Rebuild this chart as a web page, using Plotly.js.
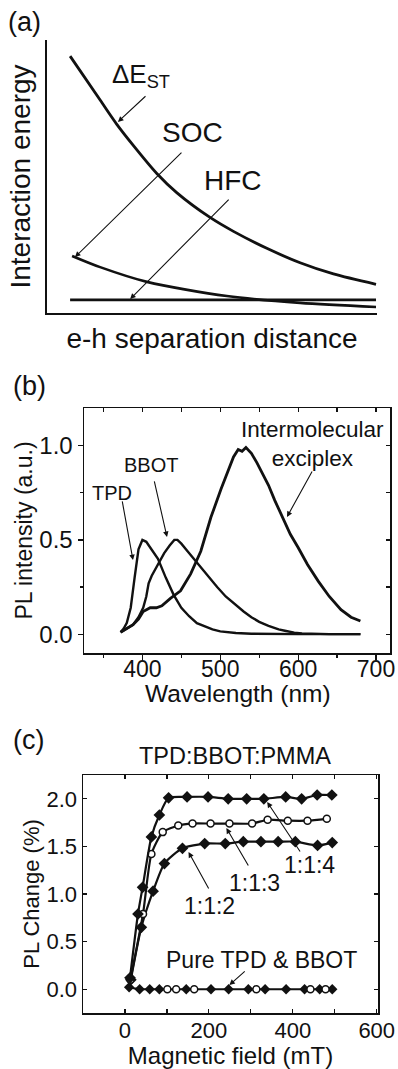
<!DOCTYPE html>
<html>
<head>
<meta charset="utf-8">
<script src="https://cdn.plot.ly/plotly-3.0.1.min.js"></script>
<style>html,body{margin:0;padding:0;background:#fff;}#chart{width:398px;height:1069px;}</style>
</head>
<body>
<div id="chart"></div>
<script>
// ---------- Panel (a): schematic interaction energies vs e-h distance ----------
const destX = [0.70, 1.61, 2.11, 2.62, 3.32, 3.93, 4.94, 5.65, 6.66, 7.67, 8.68, 9.97];
const destY = [9.41, 7.80, 6.92, 6.13, 5.12, 4.41, 3.50, 2.99, 2.37, 1.84, 1.43, 1.05];
const socX = [0.76, 1.61, 3.03, 5.45, 7.67, 9.97];
const socY = [2.09, 1.68, 1.14, 0.62, 0.37, 0.22];
const hfcX = [0.70, 9.97];
const hfcY = [0.48, 0.48];

// ---------- Panel (b): PL spectra ----------
const tpdWl = [372, 376, 380, 385, 390, 395, 400, 405, 410, 420, 430, 440, 450, 460, 470, 480, 490, 500, 520, 540, 560, 600, 640, 680];
const tpdPL = [0.01, 0.03, 0.06, 0.14, 0.30, 0.45, 0.50, 0.49, 0.46, 0.40, 0.30, 0.21, 0.14, 0.095, 0.058, 0.04, 0.025, 0.015, 0.006, 0.002, 0.0, 0.0, 0.0, 0.0];
const bbotWl = [372, 380, 388, 395, 401, 405, 408, 412, 416, 420, 428, 435, 441, 445, 450, 458, 466, 475, 485, 496, 507, 518, 530, 540, 550, 562, 575, 583, 595, 605, 620, 640, 660, 680];
const bbotPL = [0.01, 0.03, 0.05, 0.09, 0.14, 0.20, 0.27, 0.31, 0.34, 0.37, 0.43, 0.47, 0.50, 0.50, 0.48, 0.44, 0.40, 0.35, 0.30, 0.25, 0.20, 0.16, 0.12, 0.09, 0.065, 0.044, 0.025, 0.018, 0.008, 0.004, 0.001, 0.0, 0.0, 0.0];
const excWl = [372, 380, 388, 395, 401, 410, 418, 425, 436, 449, 462, 475, 488, 501, 510, 517, 523, 528, 533, 540, 547, 555, 562, 570, 580, 590, 600, 612, 626, 640, 655, 668, 680];
const excPL = [0.01, 0.03, 0.05, 0.08, 0.12, 0.14, 0.14, 0.15, 0.19, 0.23, 0.32, 0.44, 0.62, 0.77, 0.87, 0.94, 0.98, 0.97, 0.99, 0.96, 0.91, 0.85, 0.79, 0.71, 0.62, 0.53, 0.46, 0.37, 0.28, 0.20, 0.13, 0.09, 0.07];

// ---------- Panel (c): magnetic field effect ----------
const b114 = [12, 31, 42, 63, 82, 104, 148, 198, 246, 290, 331, 383, 421, 458, 493];
const pl114 = [0.12, 0.79, 1.07, 1.60, 1.83, 2.01, 2.02, 2.02, 2.00, 2.00, 2.00, 2.02, 2.00, 2.04, 2.04];
const b113 = [13, 43, 63, 90, 127, 161, 204, 249, 303, 340, 388, 435, 481];
const pl113 = [0.10, 0.79, 1.42, 1.65, 1.72, 1.74, 1.74, 1.74, 1.74, 1.78, 1.77, 1.77, 1.79];
const b112 = [14, 39, 67, 94, 137, 190, 239, 282, 324, 365, 406, 459, 494];
const pl112 = [0.10, 0.65, 1.03, 1.32, 1.48, 1.53, 1.53, 1.55, 1.55, 1.55, 1.55, 1.51, 1.54];
const bPureA = [10, 35, 59, 82, 146, 205, 247, 294, 334, 384, 428, 464, 494];
const plPureA = [0.02, 0.0, 0.0, 0.0, 0.0, 0.0, 0.0, 0.0, 0.0, 0.0, 0.0, 0.0, 0.0];
const bPureB = [101, 122, 165, 313, 442, 478];
const plPureB = [0.0, 0.0, 0.0, 0.0, 0.0, 0.0];

const F = 'Liberation Sans, Arial, Helvetica, sans-serif';
const K = '#111';

const traces = [
  // (a)
  {x: destX, y: destY, xaxis: 'x', yaxis: 'y', mode: 'lines', line: {color: K, width: 2.8, shape: 'spline', smoothing: 0.8}},
  {x: socX, y: socY, xaxis: 'x', yaxis: 'y', mode: 'lines', line: {color: K, width: 2.6, shape: 'spline', smoothing: 0.8}},
  {x: hfcX, y: hfcY, xaxis: 'x', yaxis: 'y', mode: 'lines', line: {color: K, width: 2.6}},
  // (b)
  {x: tpdWl, y: tpdPL, xaxis: 'x2', yaxis: 'y2', mode: 'lines', line: {color: K, width: 2.4}},
  {x: bbotWl, y: bbotPL, xaxis: 'x2', yaxis: 'y2', mode: 'lines', line: {color: K, width: 2.4}},
  {x: excWl, y: excPL, xaxis: 'x2', yaxis: 'y2', mode: 'lines', line: {color: K, width: 2.8}},
  // (b) mirror tick axes (empty traces)
  {x: [], y: [], xaxis: 'x4', yaxis: 'y2', mode: 'lines', hoverinfo: 'skip'},
  {x: [], y: [], xaxis: 'x2', yaxis: 'y4', mode: 'lines', hoverinfo: 'skip'},
  // (c)
  {x: bPureA, y: plPureA, xaxis: 'x3', yaxis: 'y3', mode: 'lines+markers', line: {color: K, width: 2, shape: 'spline'}, marker: {symbol: 'diamond', size: 8, color: K}},
  {x: bPureB, y: plPureB, xaxis: 'x3', yaxis: 'y3', mode: 'markers', marker: {symbol: 'circle', size: 7, color: 'white', line: {color: K, width: 1.5}}},
  {x: b112, y: pl112, xaxis: 'x3', yaxis: 'y3', mode: 'lines+markers', line: {color: K, width: 2.2, shape: 'spline', smoothing: 0.6}, marker: {symbol: 'diamond', size: 9, color: K}},
  {x: b113, y: pl113, xaxis: 'x3', yaxis: 'y3', mode: 'lines+markers', line: {color: K, width: 2.2, shape: 'spline', smoothing: 0.6}, marker: {symbol: 'circle', size: 7, color: 'white', line: {color: K, width: 1.5}}},
  {x: b114, y: pl114, xaxis: 'x3', yaxis: 'y3', mode: 'lines+markers', line: {color: K, width: 2.2, shape: 'spline', smoothing: 0.6}, marker: {symbol: 'diamond', size: 9, color: K}}
];

function arrow(xr, yr, hx, hy, tx, ty) {
  return {xref: xr, yref: yr, axref: xr, ayref: yr, x: hx, y: hy, ax: tx, ay: ty, text: '',
    showarrow: true, arrowhead: 2, arrowsize: 1, arrowwidth: 1.1, arrowcolor: K, standoff: 0, startstandoff: 0};
}
function label(xr, yr, x, y, text, size, xa) {
  return {xref: xr, yref: yr, x: x, y: y, text: text, showarrow: false, xanchor: xa || 'center', yanchor: 'middle',
    font: {family: F, size: size, color: K}};
}

const annotations = [
  label('paper', 'paper', 25 / 398, 1 - 22 / 1069, '(a)', 27),
  label('paper', 'paper', 29 / 398, 1 - 386 / 1069, '(b)', 27),
  label('paper', 'paper', 28 / 398, 1 - 740 / 1069, '(c)', 27),
  // (a)
  label('x', 'y', 1.9, 8.7, 'ΔE<sub>ST</sub>', 26, 'left'),
  label('x', 'y', 4.42, 6.63, 'SOC', 28),
  label('x', 'y', 5.64, 4.87, 'HFC', 28),
  arrow('x', 'y', 2.15, 7.0, 3.03, 7.99),
  arrow('x', 'y', 0.85, 2.05, 4.12, 5.93),
  arrow('x', 'y', 2.52, 0.51, 5.55, 4.21),
  // (b)
  label('x2', 'y2', 619, 1.009, 'Intermolecular<br>exciplex', 22.5),
  label('x2', 'y2', 411, 0.898, 'BBOT', 20),
  label('x2', 'y2', 361, 0.749, 'TPD', 20),
  label('paper', 'paper', 238 / 398, 1 - 693 / 1069, 'Wavelength (nm)', 24.5),
  arrow('x2', 'y2', 585.7, 0.622, 619, 0.871),
  arrow('x2', 'y2', 431.6, 0.516, 414.9, 0.818),
  arrow('x2', 'y2', 387.9, 0.393, 373.8, 0.712),
  // (c)
  label('paper', 'paper', 235 / 398, 1 - 756 / 1069, 'TPD:BBOT:PMMA', 23.5),
  label('x3', 'y3', 438.6, 1.305, '1:1:4', 23),
  label('x3', 'y3', 308, 1.116, '1:1:3', 23),
  label('x3', 'y3', 201.4, 0.874, '1:1:2', 23),
  label('x3', 'y3', 324.7, 0.307, 'Pure TPD &amp; BBOT', 23),
  arrow('x3', 'y3', 339, 1.966, 419.7, 1.431),
  arrow('x3', 'y3', 241.7, 1.693, 296, 1.283),
  arrow('x3', 'y3', 151.5, 1.441, 201.4, 1.042),
  arrow('x3', 'y3', 248.8, 0.044, 289, 0.202)
];

const common = {showgrid: false, zeroline: false, linecolor: K, tickcolor: K, automargin: false, fixedrange: true};

const layout = {
  width: 398, height: 1069,
  margin: {l: 0, r: 0, t: 0, b: 0},
  paper_bgcolor: 'white', plot_bgcolor: 'white',
  showlegend: false,
  font: {family: F, color: K},
  // (a)
  xaxis: Object.assign({}, common, {domain: [47 / 398, 377 / 398], anchor: 'y', range: [0, 10], showline: true, linewidth: 2,
    ticks: '', showticklabels: false,
    title: {text: 'e-h separation distance', font: {family: F, size: 28, color: K}, standoff: 14}}),
  yaxis: Object.assign({}, common, {domain: [1 - 313 / 1069, 1 - 40 / 1069], anchor: 'x', range: [0, 10], showline: true, linewidth: 2,
    ticks: '', showticklabels: false,
    title: {text: 'Interaction energy', font: {family: F, size: 28, color: K}, standoff: 6}}),
  // (b)
  xaxis2: Object.assign({}, common, {domain: [84 / 398, 390 / 398], anchor: 'y2', range: [325, 718], showline: true, mirror: true, linewidth: 1.5,
    ticks: 'outside', ticklen: 5, tickwidth: 1.2, dtick: 100, tick0: 0, ticklabelstandoff: -10,
    minor: {dtick: 50, ticks: 'outside', ticklen: 3, tickwidth: 1.2, tickcolor: K},
    tickfont: {family: F, size: 23, color: K}}),
  yaxis2: Object.assign({}, common, {domain: [1 - 653 / 1069, 1 - 408 / 1069], anchor: 'x2', range: [-0.1, 1.2], showline: true, mirror: true, linewidth: 1.5,
    ticks: 'outside', ticklen: 5, tickwidth: 1.2, dtick: 0.5, tick0: 0, tickformat: '.1f',
    minor: {dtick: 0.25, ticks: 'outside', ticklen: 3, tickwidth: 1.2, tickcolor: K},
    tickfont: {family: F, size: 24, color: K},
    title: {text: 'PL intensity (a.u.)', font: {family: F, size: 23, color: K}, standoff: 0}}),
  xaxis4: Object.assign({}, common, {overlaying: 'x2', side: 'top', anchor: 'y2', range: [325, 718], showline: false,
    ticks: 'inside', ticklen: 4, tickwidth: 1.2, dtick: 50, tick0: 0, showticklabels: false}),
  yaxis4: Object.assign({}, common, {overlaying: 'y2', side: 'right', anchor: 'x2', range: [-0.1, 1.2], showline: false,
    ticks: 'inside', ticklen: 4, tickwidth: 1.2, dtick: 0.25, tick0: 0, showticklabels: false}),
  // (c)
  xaxis3: Object.assign({}, common, {domain: [83 / 398, 378 / 398], anchor: 'y3', range: [-100, 603], showline: true, mirror: 'allticks', linewidth: 1.5,
    ticks: 'inside', ticklen: 4, tickwidth: 1.2, dtick: 200, tick0: 0, ticklabelstandoff: -3,
    minor: {dtick: 100, ticks: 'inside', ticklen: 4, tickwidth: 1.2, tickcolor: K},
    tickfont: {family: F, size: 22, color: K},
    title: {text: 'Magnetic field (mT)', font: {family: F, size: 24, color: K}, standoff: 12}}),
  yaxis3: Object.assign({}, common, {domain: [1 - 1013 / 1069, 1 - 775 / 1069], anchor: 'x3', range: [-0.25, 2.25], showline: true, mirror: 'allticks', linewidth: 1.5,
    ticks: 'inside', ticklen: 4, tickwidth: 1.2, dtick: 0.5, tick0: 0, tickformat: '.1f',
    tickfont: {family: F, size: 22, color: K},
    title: {text: 'PL Change (%)', font: {family: F, size: 22, color: K}, standoff: 1}}),
  annotations: annotations
};

Plotly.newPlot('chart', traces, layout, {displayModeBar: false, staticPlot: true});
</script>
</body>
</html>
